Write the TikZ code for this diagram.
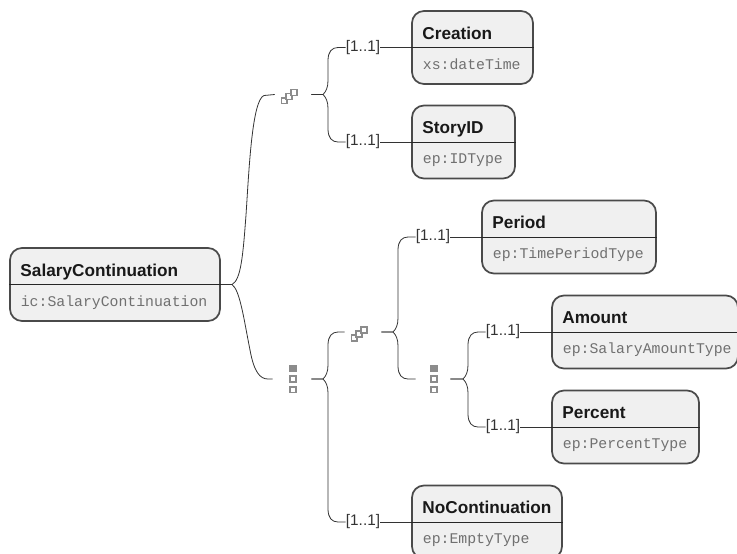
\documentclass[tikz,border=0pt]{standalone}
\usepackage{fontspec}
\setmainfont{Liberation Sans}
\setmonofont{Liberation Mono}
\definecolor{boxfill}{HTML}{F0F0F0}
\definecolor{boxline}{HTML}{4A4A4A}
\definecolor{typegray}{HTML}{707070}
\definecolor{icongray}{HTML}{8C8C8C}
\tikzset{
  typebox/.style={draw=boxline,line width=1.3pt,fill=boxfill,rounded corners=9pt,minimum height=54.75pt,inner sep=0pt},
  titletext/.style={font=\bfseries\fontsize{12.9}{15}\selectfont,inner sep=0pt,text=black!90},
  typetext/.style={font=\ttfamily\fontsize{11.1}{13}\selectfont,inner sep=0pt,text=typegray},
  link/.style={draw=black!80,line width=0.6pt},
  occurs/.style={font=\fontsize{11.5}{14}\selectfont,inner sep=0pt,text=black!80},
  compositor/.style={minimum height=6pt,inner sep=0pt},
  sq/.style={draw=icongray,line width=1.2pt,fill=white,minimum size=4.4pt,inner sep=0pt},
  sqon/.style={sq,fill=icongray}
}
\newcommand{\typenode}[6]{
  \node[typebox,minimum width=#4*0.75pt] (#1) at (#2,#3) {};
  \node[titletext,anchor=base west] (#1title) at ([xshift=8.3pt,yshift=6.2pt]#1.west) {#5};
  \node[typetext,anchor=base west] (#1type) at ([xshift=8.6pt,yshift=-16.2pt]#1.west) {#6};
  \draw[draw=black!85,line width=0.7pt] (#1.west) -- (#1.east);
}
\newcommand{\seqicon}[1]{
  \node[sq] (#1a) at ([xshift=-6.5pt,yshift=-4.6pt]#1) {};
  \node[sq] (#1b) at ([xshift=-3pt,yshift=-1.4pt]#1) {};
  \node[sq] (#1c) at ([xshift=0.7pt,yshift=1.6pt]#1) {};
}
\newcommand{\choiceicon}[1]{
  \node[sqon] (#1a) at ([xshift=0.8pt,yshift=8pt]#1) {};
  \node[sq] (#1b) at ([xshift=0.8pt]#1) {};
  \node[sq] (#1c) at ([xshift=0.8pt,yshift=-8pt]#1) {};
}
\newcommand{\forkto}[6]{
  \draw[link] (#1) -- (#3,#4) .. controls (#3+3,#4+3*#6) and (#3+5,#4+7*#6) .. (#3+5,#4+14*#6)
    -- (#3+5,#5-13*#6) .. controls (#3+5,#5-4*#6) and (#3+9,#5) .. (#3+15,#5) -- (#2);
}
\begin{document}
\begin{tikzpicture}[x=0.75pt,y=-0.75pt]
\clip (0,0) rectangle (737,553);
\typenode{SalaryContinuation}{115}{284.5}{210}{SalaryContinuation}{ic:SalaryContinuation}
\typenode{Creation}{472.5}{47.5}{121}{Creation}{xs:dateTime}
\typenode{StoryID}{463.5}{142}{103}{StoryID}{ep:IDType}
\typenode{Period}{569}{237}{174}{Period}{ep:TimePeriodType}
\typenode{Amount}{645}{332}{186}{Amount}{ep:SalaryAmountType}
\typenode{Percent}{625.5}{427}{147}{Percent}{ep:PercentType}
\typenode{NoContinuation}{487}{522}{150}{NoContinuation}{ep:EmptyType}
\node[compositor,minimum width=27pt] (TopSeq) at (293,94.5) {};
\node[compositor,minimum width=28.5pt] (TopChoice) at (292,379) {};
\node[compositor,minimum width=27pt] (InnerSeq) at (363,332) {};
\node[compositor,minimum width=25.5pt] (InnerChoice) at (433,379) {};
\seqicon{TopSeq}
\seqicon{InnerSeq}
\choiceicon{TopChoice}
\choiceicon{InnerChoice}
\node[occurs] (CreationOcc) at (363,47.5) {[1..1]};
\node[occurs] (StoryIDOcc) at (363,142) {[1..1]};
\node[occurs] (PeriodOcc) at (433,237) {[1..1]};
\node[occurs] (AmountOcc) at (503,332) {[1..1]};
\node[occurs] (PercentOcc) at (503,427) {[1..1]};
\node[occurs] (NoContinuationOcc) at (363,522) {[1..1]};
\draw[link] (SalaryContinuation.east) -- (232,284.5) .. controls (241,280) and (243,255) .. (246,215)
  .. controls (249,170) and (252,100) .. (264,95.5) -- (TopSeq.west);
\draw[link] (SalaryContinuation.east) -- (232,284.5) .. controls (240,290) and (244,320) .. (250,350)
  .. controls (254,372) and (260,379) .. (268,379) -- (TopChoice.west);
\forkto{TopSeq.east}{CreationOcc.west}{323}{94.5}{47.5}{-1}
\forkto{TopSeq.east}{StoryIDOcc.west}{323}{94.5}{142}{1}
\forkto{TopChoice.east}{InnerSeq.west}{323}{379}{332}{-1}
\forkto{TopChoice.east}{NoContinuationOcc.west}{323}{379}{522}{1}
\forkto{InnerSeq.east}{PeriodOcc.west}{393}{332}{237}{-1}
\forkto{InnerSeq.east}{InnerChoice.west}{393}{332}{379}{1}
\forkto{InnerChoice.east}{AmountOcc.west}{463}{379}{332}{-1}
\forkto{InnerChoice.east}{PercentOcc.west}{463}{379}{427}{1}
\draw[link] (CreationOcc.east) -- (Creation.west);
\draw[link] (StoryIDOcc.east) -- (StoryID.west);
\draw[link] (PeriodOcc.east) -- (Period.west);
\draw[link] (AmountOcc.east) -- (Amount.west);
\draw[link] (PercentOcc.east) -- (Percent.west);
\draw[link] (NoContinuationOcc.east) -- (NoContinuation.west);
\end{tikzpicture}
\end{document}
